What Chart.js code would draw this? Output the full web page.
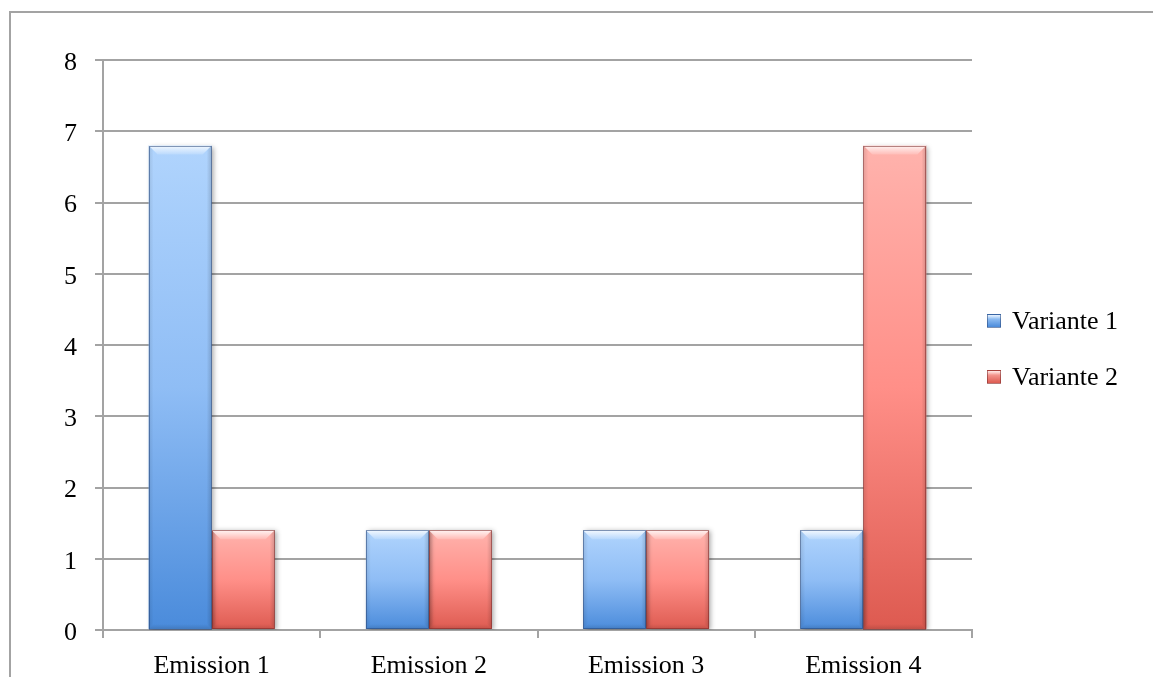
<!DOCTYPE html>
<html>
<head>
<meta charset="utf-8">
<script src="https://cdn.jsdelivr.net/npm/chart.js@4/dist/chart.umd.min.js"></script>
<style>
  html, body { margin: 0; padding: 0; background: #fff; }
  #wrap { position: relative; width: 1153px; height: 677px; overflow: hidden; }
  #frame { position: absolute; left: 9px; top: 11px; width: 1200px; height: 700px;
           border-left: 2px solid #a3a3a3; border-top: 2px solid #a3a3a3; box-sizing: border-box; }
  canvas { position: absolute; left: 0; top: 0; }
  #legend { position: absolute; left: 987px; top: 306px; font-family: "Liberation Serif", serif; font-size: 26px; color: #000; }
  .item { display: flex; align-items: center; height: 30px; margin-bottom: 26px; }
  .sw { width: 14px; height: 14px; margin-right: 11px; box-sizing: border-box; border: 1px solid rgba(60,60,60,0.55); }
</style>
</head>
<body>
<div id="wrap">
  <div id="frame"></div>
  <canvas id="c" width="1153" height="677"></canvas>
  <div id="legend"></div>
</div>
<script>
// Categories and series
const categories = ["Emission 1", "Emission 2", "Emission 3", "Emission 4"];
const seriesNames = ["Variante 1", "Variante 2"];
const variante1 = [6.8, 1.4, 1.4, 1.4];
const variante2 = [1.4, 1.4, 1.4, 6.8];
const yTicks = [0, 1, 2, 3, 4, 5, 6, 7, 8];

// Light-to-dark fills for each series
const palettes = [
  { top: "#b0d4fd", mid: "#8fbdf5", bottom: "#4a8bdb", edge: "rgba(40,70,120,0.55)" },
  { top: "#ffb3ad", mid: "#ff8f88", bottom: "#dd5a50", edge: "rgba(120,40,40,0.55)" }
];

function barFill(pal) {
  return function (c) {
    const chart = c.chart;
    if (!chart.chartArea || c.type !== "data") return pal.mid;
    const y = chart.scales.y;
    const top = y.getPixelForValue(c.raw);
    const bot = y.getPixelForValue(0);
    const g = chart.ctx.createLinearGradient(0, top, 0, bot);
    g.addColorStop(0, pal.top);
    g.addColorStop(0.5, pal.mid);
    g.addColorStop(1, pal.bottom);
    return g;
  };
}

// Soft drop shadow behind the bars
const shadowPlugin = {
  id: "barShadow",
  beforeDatasetDraw(chart) {
    const ctx = chart.ctx;
    ctx.save();
    ctx.shadowColor = "rgba(0,0,0,0.35)";
    ctx.shadowBlur = 5;
    ctx.shadowOffsetX = 2;
    ctx.shadowOffsetY = 1;
  },
  afterDatasetDraw(chart) {
    chart.ctx.restore();
  }
};

// Bevelled edges on each bar
const bevelPlugin = {
  id: "bevel",
  afterDatasetsDraw(chart) {
    const ctx = chart.ctx;
    chart.data.datasets.forEach((ds, di) => {
      const meta = chart.getDatasetMeta(di);
      const pal = palettes[di];
      meta.data.forEach(el => {
        const p = el.getProps(["x", "y", "base", "width"], true);
        const l = p.x - p.width / 2, r = p.x + p.width / 2;
        const t = p.y, b = p.base;
        const bv = 9, sv = 5;
        ctx.save();
        // top highlight
        let g = ctx.createLinearGradient(0, t, 0, t + bv);
        g.addColorStop(0, "rgba(255,255,255,0.85)");
        g.addColorStop(1, "rgba(255,255,255,0.15)");
        ctx.fillStyle = g;
        ctx.beginPath();
        ctx.moveTo(l, t); ctx.lineTo(r, t); ctx.lineTo(r - bv, t + bv); ctx.lineTo(l + bv, t + bv); ctx.closePath();
        ctx.fill();
        // left edge
        g = ctx.createLinearGradient(l, 0, l + sv, 0);
        g.addColorStop(0, "rgba(0,0,0,0.10)");
        g.addColorStop(1, "rgba(0,0,0,0)");
        ctx.fillStyle = g;
        ctx.beginPath();
        ctx.moveTo(l, t); ctx.lineTo(l + sv, t + sv); ctx.lineTo(l + sv, b - sv); ctx.lineTo(l, b); ctx.closePath();
        ctx.fill();
        // right edge
        g = ctx.createLinearGradient(r, 0, r - sv, 0);
        g.addColorStop(0, "rgba(0,0,0,0.16)");
        g.addColorStop(1, "rgba(0,0,0,0)");
        ctx.fillStyle = g;
        ctx.beginPath();
        ctx.moveTo(r, t); ctx.lineTo(r - sv, t + sv); ctx.lineTo(r - sv, b - sv); ctx.lineTo(r, b); ctx.closePath();
        ctx.fill();
        // bottom edge
        g = ctx.createLinearGradient(0, b, 0, b - sv);
        g.addColorStop(0, "rgba(0,0,0,0.12)");
        g.addColorStop(1, "rgba(0,0,0,0)");
        ctx.fillStyle = g;
        ctx.beginPath();
        ctx.moveTo(l, b); ctx.lineTo(r, b); ctx.lineTo(r - sv, b - sv); ctx.lineTo(l + sv, b - sv); ctx.closePath();
        ctx.fill();
        // outline
        ctx.strokeStyle = pal.edge;
        ctx.lineWidth = 1;
        ctx.strokeRect(Math.round(l) + 0.5, Math.round(t) + 0.5, Math.round(r - l) - 1, Math.round(b - t) - 1);
        ctx.restore();
      });
    });
  }
};

const fontFam = '"Liberation Serif", serif';
const gridGray = "#a3a3a3";

new Chart(document.getElementById("c"), {
  type: "bar",
  data: {
    labels: categories,
    datasets: [
      { label: seriesNames[0], data: variante1, backgroundColor: barFill(palettes[0]) },
      { label: seriesNames[1], data: variante2, backgroundColor: barFill(palettes[1]) }
    ]
  },
  options: {
    responsive: false,
    animation: false,
    devicePixelRatio: 1,
    layout: { padding: { top: 60, right: 181, bottom: 0, left: 0 } },
    datasets: { bar: { categoryPercentage: 0.58, barPercentage: 1.0 } },
    plugins: { legend: { display: false }, tooltip: { enabled: false } },
    scales: {
      x: {
        afterFit(s) { s.height = 47; },
        grid: { drawOnChartArea: false, drawTicks: true, tickLength: 8, color: gridGray, lineWidth: 2, offset: true },
        border: { display: true, color: gridGray, width: 2 },
        ticks: { color: "#000", font: { family: fontFam, size: 26 }, padding: 13 }
      },
      y: {
        min: 0, max: 8,
        afterFit(s) { s.width = 103; },
        afterBuildTicks(s) { s.ticks = yTicks.map(v => ({ value: v })); },
        grid: { color: gridGray, lineWidth: 2, tickLength: 8 },
        border: { display: true, color: gridGray, width: 2 },
        ticks: { color: "#000", font: { family: fontFam, size: 26 }, padding: 18, labelOffset: 3 }
      }
    }
  },
  plugins: [shadowPlugin, bevelPlugin]
});

// Legend built from the series names and fills
const legend = document.getElementById("legend");
seriesNames.forEach((name, i) => {
  const pal = palettes[i];
  const item = document.createElement("div");
  item.className = "item";
  const sw = document.createElement("div");
  sw.className = "sw";
  sw.style.background = "linear-gradient(180deg, rgba(255,255,255,0.7) 0, rgba(255,255,255,0) 4px), linear-gradient(180deg, " + pal.top + ", " + pal.bottom + ")";
  sw.style.borderColor = pal.edge;
  const tx = document.createElement("span");
  tx.textContent = name;
  item.appendChild(sw);
  item.appendChild(tx);
  legend.appendChild(item);
});
</script>
</body>
</html>
